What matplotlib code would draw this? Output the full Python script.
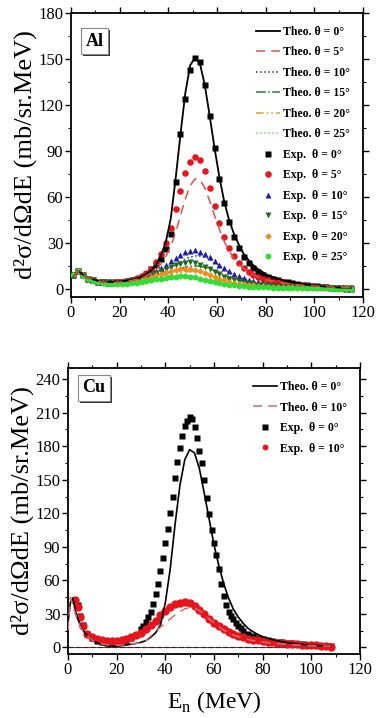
import matplotlib
matplotlib.use("Agg")
import matplotlib.pyplot as plt
import matplotlib.patheffects as pe
from matplotlib.ticker import MultipleLocator

plt.rcParams['font.family'] = ['Liberation Serif', 'DejaVu Serif']
plt.rcParams['mathtext.fontset'] = 'custom'
plt.rcParams['mathtext.rm'] = 'Liberation Serif'

# === Al data (energy grid in MeV, cross sections in mb/sr.MeV) ===
E_al = [1, 3, 5, 7, 9, 11, 13, 15, 17, 19, 21, 23, 25, 27, 29, 31, 33, 35, 37, 39,
        41, 43, 45, 47, 49, 51, 53, 55, 57, 59, 61, 63, 65, 67, 69, 71, 73, 75, 77, 79,
        81, 83, 85, 87, 89, 91, 93, 95, 97, 99, 101, 103, 105, 107, 109, 111, 113, 115]

al_exp_0 = [9, 12, 9, 7, 6, 5, 4.5, 4.5, 4.5, 4.5, 5, 5.5, 6, 7, 8, 10, 13, 16, 20, 26,
            36, 70, 101, 124, 143, 151, 148, 133, 113, 92, 72, 56, 44, 34, 27, 21, 17, 14, 11.5, 9.5,
            8, 7, 6, 5, 4.5, 4, 3.5, 3, 2.5, 2, 2, 1.5, 1.5, 1, 1, 1, 0.5, 0.5]
al_exp_5 = [9, 12, 9, 7, 6, 5, 4.5, 4.3, 4.3, 4.5, 5, 5.5, 6.2, 7.2, 8.5, 10.5, 13.5, 17.5, 23, 30,
            40, 52, 64, 76, 83, 86, 84, 77, 66, 54, 43, 34, 27, 21.5, 17, 14, 11.5, 9.5, 8, 7,
            6, 5, 4.5, 4, 3.5, 3, 2.8, 2.5, 2.2, 2, 1.8, 1.5, 1.3, 1.1, 1, 0.9, 0.8, 0.7]
al_exp_10 = [9, 12, 9, 7, 6, 5, 4.5, 4.2, 4.2, 4.5, 5, 5.5, 6, 7, 8, 9, 10.5, 12, 14, 16,
             18.5, 20.5, 22.5, 24, 25, 25.3, 24.5, 23, 21, 18.5, 16, 14, 12, 10, 8.5, 7.3, 6.3, 5.5, 4.8, 4.2,
             3.7, 3.3, 3, 2.7, 2.5, 2.3, 2.1, 2, 1.8, 1.7, 1.5, 1.4, 1.3, 1.2, 1.1, 1, 0.9, 0.8]
al_exp_15 = [9, 12, 9, 7, 5.8, 5, 4.5, 4.2, 4, 4, 4.2, 4.6, 5.2, 6, 7, 8, 9.2, 10.5, 11.8, 13.2,
             14.6, 15.8, 16.8, 17.4, 17.5, 17, 16, 14.6, 13, 11.3, 9.7, 8.3, 7, 6, 5.1, 4.4, 3.8, 3.3, 3, 2.7,
             2.4, 2.2, 2, 1.8, 1.7, 1.6, 1.5, 1.4, 1.3, 1.2, 1.1, 1, 1, 0.9, 0.9, 0.8, 0.8, 0.7]
al_exp_20 = [9, 12, 9, 7, 5.7, 4.8, 4.3, 4, 3.8, 3.8, 4, 4.4, 4.9, 5.5, 6.2, 7, 8, 9, 10, 11,
             12, 12.8, 13.3, 13.5, 13.4, 12.8, 11.8, 10.6, 9.3, 8, 6.9, 5.9, 5, 4.3, 3.7, 3.2, 2.8, 2.5, 2.2, 2,
             1.8, 1.7, 1.5, 1.4, 1.3, 1.2, 1.1, 1, 1, 0.9, 0.9, 0.8, 0.8, 0.7, 0.7, 0.6, 0.6, 0.5]
al_exp_25 = [9, 12, 8.8, 6.8, 5.5, 4.6, 4, 3.7, 3.5, 3.3, 3.3, 3.5, 3.8, 4.2, 4.7, 5.2, 5.8, 6.4, 7, 7.5,
             8, 8.3, 8.5, 8.5, 8.2, 7.7, 7, 6.2, 5.4, 4.7, 4, 3.4, 3, 2.6, 2.3, 2, 1.8, 1.6, 1.4, 1.3,
             1.2, 1.1, 1, 0.9, 0.9, 0.8, 0.8, 0.7, 0.7, 0.7, 0.6, 0.6, 0.6, 0.5, 0.5, 0.5, 0.5, 0.5]

al_th_0 = [8, 12, 9.5, 7.5, 6.5, 5.5, 5, 4.8, 4.8, 5, 5.2, 5.6, 6.2, 7, 8.2, 10, 12.5, 16, 22, 31,
           46, 72, 101, 128, 146, 151, 147, 133, 113, 92, 73, 57, 45, 36, 29, 23, 19, 15.5, 13, 11,
           9, 8, 7, 6, 5, 4.5, 4, 3.5, 3, 2.5, 2.2, 2, 1.7, 1.5, 1.3, 1.1, 1, 0.9]
al_th_5 = [8, 12, 9.5, 7.5, 6.3, 5.3, 4.8, 4.5, 4.5, 4.6, 4.9, 5.3, 5.8, 6.5, 7.5, 8.8, 10.5, 13, 16.5, 21.5,
           28, 37, 48, 59, 67.5, 72, 71.5, 66, 57.5, 48, 39, 31, 25, 20, 16.3, 13.5, 11.2, 9.4, 8, 6.8,
           5.9, 5.2, 4.6, 4.1, 3.7, 3.3, 3, 2.7, 2.4, 2.2, 2, 1.8, 1.6, 1.5, 1.3, 1.2, 1.1, 1]

E_al_th = [1, 3, 5, 8, 12, 16, 20, 24, 28, 32, 36, 40, 44, 48, 52, 56, 60, 64, 68, 72,
           76, 80, 85, 90, 95, 100, 105, 110, 115]
al_th_10 = [8, 12, 9, 7, 5, 4.2, 4, 4.5, 5.5, 7, 9.5, 13, 17, 20.5, 22, 20.5, 16.5, 12, 8.5, 6.2,
            4.8, 3.8, 3, 2.4, 2, 1.7, 1.4, 1.2, 1]
al_th_15 = [8, 12, 9, 7, 5, 4, 3.8, 4.2, 5, 6.3, 8, 10.5, 13, 14.8, 15.2, 14, 11.5, 8.8, 6.5, 4.8,
            3.7, 3, 2.4, 2, 1.7, 1.4, 1.2, 1, 0.9]
al_th_20 = [8, 12, 9, 7, 5, 3.8, 3.5, 3.8, 4.5, 5.5, 7, 8.8, 10.5, 11.5, 11.6, 10.5, 8.6, 6.7, 5, 3.8,
            3, 2.4, 2, 1.7, 1.4, 1.2, 1, 0.9, 0.8]
al_th_25 = [8, 12, 9, 6.8, 4.8, 3.6, 3.2, 3.3, 3.8, 4.5, 5.5, 6.5, 7.3, 7.6, 7.3, 6.5, 5.3, 4.2, 3.3, 2.6,
            2.1, 1.7, 1.4, 1.2, 1, 0.9, 0.8, 0.7, 0.6]

# === Cu data ===
E_cu_0 = [3, 4, 5, 6, 8, 10, 12, 14, 16, 18, 20, 22, 24, 26, 28,
          30, 31, 32, 33, 34, 35, 36, 37, 38, 39, 40, 41, 42, 43, 44, 45, 46, 47, 48, 49,
          50, 51, 52, 53, 54, 55, 56, 57, 58, 59, 60, 61, 62, 63, 64, 65, 66, 67, 68, 69,
          70, 71, 72, 74, 76, 78, 80, 82, 84, 86, 88, 90, 92, 94, 96, 98, 100, 102, 104, 106, 108]
cu_exp_0 = [42, 38, 28, 20, 12, 8, 5.5, 4.5, 4, 4, 4, 5, 6, 8, 11,
            16, 19, 23, 27, 32, 39, 48, 57, 68, 80, 93, 106, 120, 135, 152, 166, 178, 189, 198, 203,
            206, 204, 197, 187, 176, 165, 150, 134, 119, 105, 93, 83, 70, 57, 46, 38, 32, 28, 25, 22,
            19, 17, 15, 12, 10, 8.5, 7.5, 6.5, 5.5, 5, 4.5, 4, 3.5, 3, 2.8, 2.5, 2.2, 2, 1.6, 1.3, 1]

E_cu_10 = [3, 4, 5, 6, 8, 10, 12, 14, 16, 18, 20, 22, 24, 26, 28, 30, 32, 34, 36, 38,
           40, 42, 44, 46, 48, 50, 52, 54, 56, 58, 60, 62, 64, 66, 68, 70, 72, 74, 76, 78,
           80, 82, 84, 86, 88, 90, 92, 94, 96, 98, 100, 102, 104, 106, 108]
cu_exp_10 = [42, 36, 27, 19, 12, 9, 7.5, 6.5, 6, 6, 6, 6.5, 7.5, 9, 11, 13, 16, 20, 24, 28.5,
             32.5, 36, 38.5, 40, 40.5, 39.5, 37, 33.5, 29.5, 25.5, 22, 19, 16, 13.5, 11.5, 10, 8.8, 7.8, 7, 6.3,
             5.6, 5, 4.5, 4, 3.6, 3.2, 2.9, 2.6, 2.4, 2.2, 2, 1.7, 1.4, 1, 0.6]

E_cu_th = [0, 1, 2, 3, 4, 5, 6, 8, 10, 12, 14, 16, 18, 20, 22, 24, 26, 28, 30, 32,
           34, 36, 38, 40, 42, 44, 46, 48, 50, 52, 54, 56, 58, 60, 62, 64, 66, 68, 70, 72,
           74, 76, 78, 80, 84, 88, 92, 96, 100, 104, 108]
cu_th_0 = [22, 40, 44, 33, 26, 20, 16, 10, 6.5, 4, 2.5, 1.5, 1, 1, 1.5, 2, 2.8, 3.5, 4.5, 6,
           9, 13, 20, 40, 70, 110, 145, 168, 177, 174, 160, 138, 115, 92, 73, 57, 44, 34, 27, 21.5,
           17, 14, 11.5, 9.5, 6.8, 5, 3.6, 2.7, 2, 1.4, 0.8]
cu_th_10 = [15, 45, 38, 30, 24, 19, 15, 10, 6.5, 4.5, 3, 2.2, 1.8, 1.8, 2, 2.4, 3, 3.5, 4, 6,
            10, 14.5, 18, 21.5, 25.5, 29, 32, 34.5, 35.5, 35, 33, 29.5, 25.5, 22, 18.5, 15.5, 13, 11, 9.5, 8.2,
            7, 6, 5.3, 4.7, 3.7, 3, 2.4, 2, 1.6, 1.2, 0.9]

# === figure ===
fig = plt.figure(figsize=(3.79, 7.18), dpi=100)
ax1 = fig.add_axes([0.1873, 0.5864, 0.7704, 0.3955])
ax2 = fig.add_axes([0.1794, 0.0891, 0.7704, 0.3983])

ms = 4.2
# Al: experiment then theory
ax1.plot(E_al, al_exp_0, 's', color='black', ms=ms, mec='none', label='Exp.  θ = 0°', zorder=3)
ax1.plot(E_al, al_exp_5, 'o', color='#e8141c', ms=ms + 0.5, mec='none', label='Exp.  θ = 5°', zorder=3)
ax1.plot(E_al, al_exp_10, '^', color='#1c1cb4', ms=ms, mec='none', label='Exp.  θ = 10°', zorder=3)
ax1.plot(E_al, al_exp_15, 'v', color='#1f6b1f', ms=ms, mec='none', label='Exp.  θ = 15°', zorder=3)
ax1.plot(E_al, al_exp_20, 'D', color='#f28c1c', ms=ms - 0.8, mec='none', label='Exp.  θ = 20°', zorder=3)
ax1.plot(E_al, al_exp_25, 'o', color='#33dd33', ms=ms, mec='none', label='Exp.  θ = 25°', zorder=3)

ax1.plot(E_al, al_th_0, '-', color='black', lw=1.3, label='Theo. θ = 0°', zorder=4)
ax1.plot(E_al, al_th_5, '--', color='#d9534f', lw=1.1, dashes=(6, 4), label='Theo. θ = 5°', zorder=4)
ax1.plot(E_al_th, al_th_10, ':', color='#34345c', lw=1.1, label='Theo. θ = 10°', zorder=2)
ax1.plot(E_al_th, al_th_15, '-.', color='#2e7d32', lw=1.1, label='Theo. θ = 15°', zorder=2)
ax1.plot(E_al_th, al_th_20, color='#d2a03c', lw=1.1, dashes=(5, 2, 1, 2, 1, 2), label='Theo. θ = 20°', zorder=2)
ax1.plot(E_al_th, al_th_25, ':', color='#66e066', lw=1.1, label='Theo. θ = 25°', zorder=2)

# Cu
ax2.plot(E_cu_0, cu_exp_0, 's', color='black', ms=ms, mec='none', label='Exp.  θ = 0°', zorder=3)
ax2.plot(E_cu_10, cu_exp_10, 'o', color='#e8141c', ms=6, mec='none', label='Exp.  θ = 10°', zorder=3)
ax2.plot(E_cu_th, cu_th_0, '-', color='black', lw=1.2, label='Theo. θ = 0°', zorder=4)
ax2.plot(E_cu_th, cu_th_10, '--', color='#cf6f6f', lw=1.1, dashes=(6, 4), label='Theo. θ = 10°', zorder=4)
ax2.hlines(0, E_cu_th[0], E_cu_th[-1], colors='#cf6f6f', linestyles='--', lw=1.0, zorder=2)
ax2.hlines(0, E_cu_th[0], E_cu_th[-1], colors='black', lw=0.5, zorder=2)

for ax in (ax1, ax2):
    ax.set_xlim(0, 120)
    ax.xaxis.set_major_locator(MultipleLocator(20))
    ax.xaxis.set_minor_locator(MultipleLocator(10))
    ax.yaxis.set_major_locator(MultipleLocator(30))
    ax.yaxis.set_minor_locator(MultipleLocator(15))
    ax.tick_params(which='both', direction='out', top=True, right=True, labelsize=12, pad=1.5)
    ax.tick_params(which='major', length=4, width=1)
    ax.tick_params(which='minor', length=2.5, width=0.8)
    for s in ax.spines.values():
        s.set_linewidth(1.3)
    ax.set_ylabel('d²σ/dΩdE (mb/sr.MeV)', fontsize=19, labelpad=1)

ax1.set_ylim(-5, 180)
ax2.set_ylim(-6, 250)
ax2.set_xlabel(r'E$_\mathregular{n}$ (MeV)', fontsize=17, labelpad=8)

# legends: theory first, then experiment
leg_kw = dict(loc='upper right', frameon=False, prop={'weight': 'bold', 'size': 8.5},
              handlelength=2.0, labelspacing=0.72, handletextpad=0.25, borderaxespad=0.7)
h1, l1 = ax1.get_legend_handles_labels()
order1 = [6, 7, 8, 9, 10, 11, 0, 1, 2, 3, 4, 5]
ax1.legend([h1[i] for i in order1], [l1[i] for i in order1], **leg_kw)
h2, l2 = ax2.get_legend_handles_labels()
order2 = [2, 3, 0, 1]
leg2 = ax2.legend([h2[i] for i in order2], [l2[i] for i in order2], **leg_kw)
leg2.legend_handles[3].set_markersize(ms)

for ax, name, ytop in ((ax1, 'Al', 0.93), (ax2, 'Cu', 0.96)):
    t = ax.text(0.05, ytop, name, transform=ax.transAxes, fontsize=13, fontweight='bold',
                va='top', ha='left',
                bbox=dict(boxstyle='square,pad=0.25', fc='white', ec='#888888', lw=0.8))
    t.get_bbox_patch().set_path_effects([pe.SimplePatchShadow(offset=(1.5, -1.5), shadow_rgbFace='black', alpha=0.8),
                                         pe.Normal()])

fig.savefig('out.png', dpi=100)
